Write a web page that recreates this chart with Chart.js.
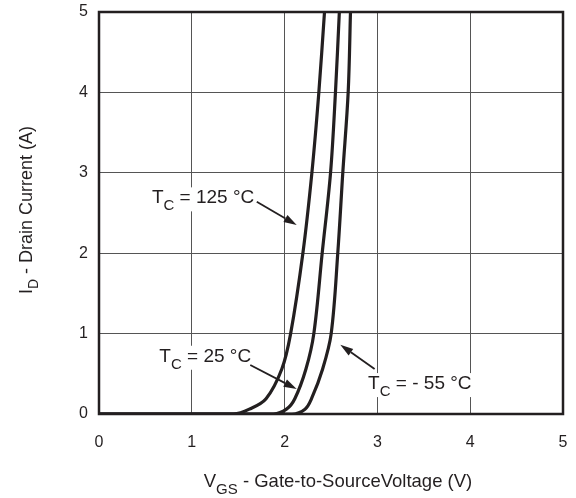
<!DOCTYPE html>
<html>
<head>
<meta charset="utf-8">
<script src="https://cdn.jsdelivr.net/npm/chart.js@4.4.0/dist/chart.umd.min.js"></script>
<style>
  html, body { margin: 0; padding: 0; background: #fff; }
  #wrap { width: 576px; height: 498px; }
</style>
</head>
<body>
<div id="wrap"><canvas id="canvas_transfer"></canvas></div>
<script>
// transfer characteristics
const idLevels = [0, 0, 0.06, 0.19, 0.56, 1, 2, 3, 4, 5];
const vgs125 = [0, 1.45, 1.62, 1.80, 1.97, 2.065, 2.197, 2.294, 2.369, 2.43];
const vgs25  = [0, 1.88, 2.02, 2.11, 2.23, 2.315, 2.405, 2.495, 2.548, 2.59];
const vgsM55 = [0, 2.08, 2.22, 2.29, 2.41, 2.502, 2.573, 2.627, 2.685, 2.71];
const xTicks = [0, 1, 2, 3, 4, 5];
const yTicks = [0, 1, 2, 3, 4, 5];

// labels with arrows, anchored in data units (text x/y, arrow from -> to)
const notes = [
  {parts: [['T', 0], ['C', 1], [' = 125 °C', 0]], x: 0.57, y: 2.62, from: [1.70, 2.64], to: [2.13, 2.35]},
  {parts: [['T', 0], ['C', 1], [' = 25 °C', 0]],  x: 0.65, y: 0.65, from: [1.63, 0.61], to: [2.13, 0.31]},
  {parts: [['T', 0], ['C', 1], [' = - 55 °C', 0]], x: 2.90, y: 0.31, from: [2.97, 0.56], to: [2.60, 0.86]},
];

const INK = '#231f20';
const FONT = '"Liberation Sans", Arial, sans-serif';

function toPoints(xs, ys){
  return xs.map((x, i) => ({x: x, y: ys[i]}));
}

function drawParts(ctx, parts, x, y, size){
  let cx = x;
  parts.forEach(p => {
    const sub = p[1] === 1;
    ctx.font = (sub ? Math.round(size * 0.8) : size) + 'px ' + FONT;
    ctx.fillText(p[0], cx, sub ? y + size * 0.36 : y);
    cx += ctx.measureText(p[0]).width;
  });
  return cx - x;
}

function measureParts(ctx, parts, size){
  let w = 0;
  parts.forEach(p => {
    ctx.font = (p[1] === 1 ? Math.round(size * 0.8) : size) + 'px ' + FONT;
    w += ctx.measureText(p[0]).width;
  });
  return w;
}

function arrow(ctx, x1, y1, x2, y2){
  const ang = Math.atan2(y2 - y1, x2 - x1);
  const len = 13, half = 4;
  const bx = x2 - len * Math.cos(ang), by = y2 - len * Math.sin(ang);
  ctx.beginPath();
  ctx.moveTo(x1, y1);
  ctx.lineTo(bx, by);
  ctx.stroke();
  ctx.beginPath();
  ctx.moveTo(x2, y2);
  ctx.lineTo(bx + half * Math.sin(ang), by - half * Math.cos(ang));
  ctx.lineTo(bx - half * Math.sin(ang), by + half * Math.cos(ang));
  ctx.closePath();
  ctx.fill();
}

// no automatic label padding: the plot box is set by layout.padding alone
function noPad(s){
  s.paddingTop = 0; s.paddingBottom = 0; s.paddingLeft = 0; s.paddingRight = 0;
}

const extras = {
  id: 'extras',
  afterDraw(chart){
    const {ctx, chartArea, scales} = chart;
    const xs = scales.x, ys = scales.y;
    ctx.save();
    // frame
    ctx.strokeStyle = INK;
    ctx.lineWidth = 2.5;
    ctx.strokeRect(chartArea.left, chartArea.top, chartArea.right - chartArea.left, chartArea.bottom - chartArea.top);

    ctx.fillStyle = INK;
    ctx.textBaseline = 'alphabetic';
    ctx.textAlign = 'left';
    notes.forEach(n => {
      // white knock-out behind text so grid lines break
      const w = measureParts(ctx, n.parts, 19);
      const tx = xs.getPixelForValue(n.x), ty = ys.getPixelForValue(n.y);
      ctx.fillStyle = '#fff';
      ctx.fillRect(tx - 2, ty - 16, w + 4, 24);
      ctx.fillStyle = INK;
      drawParts(ctx, n.parts, tx, ty, 19);
      ctx.lineWidth = 1.8;
      arrow(ctx, xs.getPixelForValue(n.from[0]), ys.getPixelForValue(n.from[1]),
                 xs.getPixelForValue(n.to[0]), ys.getPixelForValue(n.to[1]));
    });

    // axis titles with subscripts
    const xt = [['V', 0], ['GS', 1], [' - Gate-to-SourceVoltage (V)', 0]];
    const xw = measureParts(ctx, xt, 18.5);
    const xc = (chartArea.left + chartArea.right) / 2 + 7;
    drawParts(ctx, xt, xc - xw / 2, 487, 18.5);

    const yt = [['I', 0], ['D', 1], [' - Drain Current (A)', 0]];
    const yw = measureParts(ctx, yt, 18);
    const yc = (chartArea.top + chartArea.bottom) / 2;
    ctx.translate(32, yc - 3);
    ctx.rotate(-Math.PI / 2);
    drawParts(ctx, yt, -yw / 2, 0, 18);
    ctx.restore();
  }
};

function line(xs){
  return {
    data: toPoints(xs, idLevels),
    showLine: true,
    borderColor: INK,
    borderWidth: 3.2,
    pointRadius: 0,
    tension: 0.35,
    fill: false,
  };
}

const config = {
  type: 'scatter',
  data: {
    datasets: [line(vgs125), line(vgs25), line(vgsM55)]
  },
  options: {
    responsive: true,
    maintainAspectRatio: false,
    animation: false,
    layout: { padding: { top: 12, right: 13, left: 0, bottom: 0 } },
    scales: {
      x: {
        type: 'linear',
        min: 0, max: 5,
        afterBuildTicks: s => { s.ticks = xTicks.map(v => ({value: v})); },
        afterFit: s => { s.height = 84; noPad(s); },
        grid: { color: '#555', lineWidth: 1, drawTicks: false },
        border: { display: false },
        ticks: { padding: 19, color: INK, font: { family: FONT, size: 16 } }
      },
      y: {
        type: 'linear',
        min: 0, max: 5,
        afterBuildTicks: s => { s.ticks = yTicks.map(v => ({value: v})); },
        afterFit: s => { s.width = 99; noPad(s); },
        grid: { color: '#555', lineWidth: 1, drawTicks: false },
        border: { display: false },
        ticks: { padding: 11, color: INK, font: { family: FONT, size: 16 } }
      }
    },
    plugins: {
      legend: { display: false },
      tooltip: { enabled: false }
    }
  },
  plugins: [extras]
};

window.chart = new Chart(document.getElementById('canvas_transfer'), config);
</script>
</body>
</html>
